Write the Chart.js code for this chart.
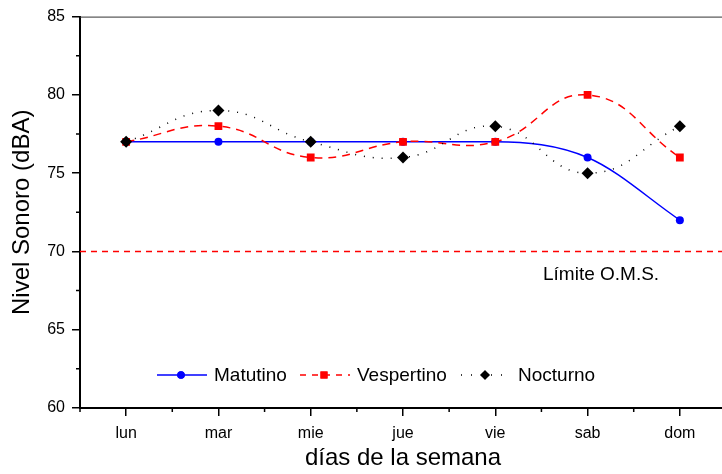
<!DOCTYPE html>
<html>
<head>
<meta charset="utf-8">
<script src="https://cdn.jsdelivr.net/npm/chart.js@4"></script>
<style>
  html, body { margin: 0; padding: 0; overflow: hidden; background: #fff; }
</style>
</head>
<body>
<canvas id="ruido" width="732" height="474"></canvas>
<script>
const dias = ["lun", "mar", "mie", "jue", "vie", "sab", "dom"];
const matutino = [77, 77, 77, 77, 77, 76, 72];
const vespertino = [77, 78, 76, 77, 77, 80, 76];
const nocturno = [77, 79, 77, 76, 78, 75, 78];
const limiteOMS = 70;
const yTicks = [60, 65, 70, 75, 80, 85];

const FONT = "Arial, 'Liberation Sans', sans-serif";

// legend drawn by hand: Origin style, line + marker + text
const legendItems = [
  { label: "Matutino", color: "#0000ff", dash: [], style: "circle", r: 3.8, x: 157 },
  { label: "Vespertino", color: "#ff0000", dash: [6, 6], style: "rect", r: 5, x: 300 },
  { label: "Nocturno", color: "#000000", dash: [1, 9], style: "rectRot", r: 4.8, x: 461 }
];

const extras = {
  id: "extras",
  afterDraw(chart) {
    const { ctx, chartArea, scales } = chart;
    const xs = scales.x, ys = scales.y;
    ctx.save();

    // top frame line
    ctx.strokeStyle = "#333";
    ctx.lineWidth = 1;
    ctx.beginPath();
    ctx.moveTo(chartArea.left, chartArea.top + 0.5);
    ctx.lineTo(chartArea.right, chartArea.top + 0.5);
    ctx.stroke();

    // minor ticks
    ctx.strokeStyle = "#000";
    ctx.lineWidth = 1.5;
    ctx.beginPath();
    for (let v = 62.5; v < 85; v += 5) {
      const y = ys.getPixelForValue(v);
      ctx.moveTo(chartArea.left, y);
      ctx.lineTo(chartArea.left - 4, y);
    }
    for (let i = 0; i <= dias.length; i++) {
      const x = xs.getPixelForValue(i - 0.5);
      ctx.moveTo(x, chartArea.bottom);
      ctx.lineTo(x, chartArea.bottom + 4);
    }
    ctx.stroke();

    // O.M.S. limit
    const yl = ys.getPixelForValue(limiteOMS);
    ctx.strokeStyle = "#ff0000";
    ctx.lineWidth = 1.5;
    ctx.setLineDash([6, 5]);
    ctx.beginPath();
    ctx.moveTo(chartArea.left, yl);
    ctx.lineTo(chartArea.right, yl);
    ctx.stroke();
    ctx.setLineDash([]);
    ctx.fillStyle = "#000";
    ctx.font = "19px " + FONT;
    ctx.textBaseline = "middle";
    ctx.fillText("Límite O.M.S.", 543, yl + 23);

    // legend
    const ly = 375;
    legendItems.forEach(it => {
      ctx.strokeStyle = it.color;
      ctx.lineWidth = 1.5;
      ctx.setLineDash(it.dash);
      ctx.beginPath();
      ctx.moveTo(it.x, ly);
      ctx.lineTo(it.x + 50, ly);
      ctx.stroke();
      ctx.setLineDash([]);
      ctx.fillStyle = it.color;
      Chart.helpers.drawPoint(ctx, { pointStyle: it.style, radius: it.r, borderWidth: 0 }, it.x + 24, ly);
      ctx.fill();
      ctx.fillStyle = "#000";
      ctx.font = "19px " + FONT;
      ctx.fillText(it.label, it.x + 57, ly + 1);
    });
    ctx.restore();
  }
};

new Chart(document.getElementById("ruido"), {
  type: "line",
  data: {
    labels: dias,
    datasets: [
      {
        label: "Matutino",
        data: matutino,
        order: 2,
        borderColor: "#0000ff",
        backgroundColor: "#0000ff",
        borderWidth: 1.5,
        cubicInterpolationMode: "monotone",
        pointStyle: "circle",
        pointRadius: 4,
        pointBorderWidth: 0
      },
      {
        label: "Vespertino",
        data: vespertino,
        order: 1,
        borderColor: "#ff0000",
        backgroundColor: "#ff0000",
        borderWidth: 1.5,
        borderDash: [8, 6],
        tension: 0.45,
        pointStyle: "rect",
        pointRadius: 5.5,
        pointBorderWidth: 0
      },
      {
        label: "Nocturno",
        data: nocturno,
        order: 0,
        borderColor: "#000000",
        backgroundColor: "#000000",
        borderWidth: 1.5,
        borderDash: [1, 8],
        tension: 0.45,
        pointStyle: "rectRot",
        pointRadius: 6,
        pointBorderWidth: 0
      }
    ]
  },
  options: {
    responsive: false,
    animation: false,
    layout: { padding: { top: 15, right: 2, bottom: 0, left: 0 } },
    plugins: {
      legend: { display: false },
      tooltip: { enabled: false }
    },
    scales: {
      x: {
        offset: true,
        grid: { display: true, drawOnChartArea: false, drawTicks: true, tickLength: 8, color: "#000", lineWidth: 1.5, offset: false },
        border: { display: true, color: "#000", width: 2 },
        ticks: { color: "#000", font: { size: 16, family: FONT }, padding: 8 },
        title: { display: true, text: "días de la semana", color: "#000", font: { size: 24, family: FONT }, padding: { top: 0, bottom: 1 } },
        afterFit: s => { s.height = 66; }
      },
      y: {
        min: 60,
        max: 85,
        afterBuildTicks: s => { s.ticks = yTicks.map(v => ({ value: v })); },
        grid: { display: true, drawOnChartArea: false, drawTicks: true, tickLength: 8, color: "#000", lineWidth: 1.5 },
        border: { display: true, color: "#000", width: 2 },
        ticks: { color: "#000", font: { size: 16, family: FONT }, padding: 7 },
        title: { display: true, text: "Nivel Sonoro (dBA)", color: "#000", font: { size: 24, family: FONT }, padding: { top: 8, bottom: 0 } },
        afterFit: s => { s.width = 80; }
      }
    }
  },
  plugins: [extras]
});
</script>
</body>
</html>
